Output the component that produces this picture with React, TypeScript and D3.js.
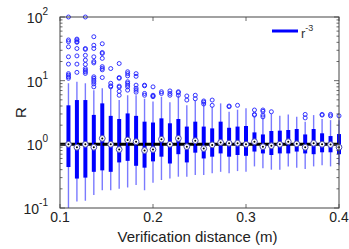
import { useEffect, useRef } from 'react'
import * as d3 from 'd3'

// box statistics, one entry per verification distance
const lowWhisker = [0.1, 0.126, 0.13, 0.16, 0.19, 0.19, 0.2, 0.21, 0.23, 0.19, 0.25, 0.275, 0.29, 0.31, 0.31, 0.33,
  0.33, 0.35, 0.37, 0.35, 0.38, 0.37, 0.45, 0.42, 0.4, 0.4, 0.45, 0.43, 0.41, 0.45, 0.47, 0.45, 0.47]
const q1 = [0.44, 0.29, 0.3, 0.37, 0.39, 0.37, 0.52, 0.55, 0.46, 0.43, 0.54, 0.64, 0.5, 0.7, 0.52, 0.74,
  0.6, 0.64, 0.72, 0.64, 0.68, 0.66, 0.77, 0.72, 0.68, 0.72, 0.72, 0.77, 0.72, 0.7, 0.75, 0.75, 0.7]
const medians = [1.0, 0.9, 1.0, 0.9, 1.24, 1.0, 0.83, 1.17, 1.1, 0.8, 0.83, 1.2, 1.0, 1.24, 0.92, 1.14,
  0.86, 0.98, 1.07, 1.04, 1.04, 1.0, 1.1, 0.92, 0.95, 1.0, 1.1, 1.02, 0.9, 1.04, 1.0, 0.99, 0.9]
const q3 = [4.1, 4.96, 4.96, 2.9, 4.4, 2.8, 2.5, 3.06, 2.8, 2.27, 2.2, 2.56, 2.14, 2.5, 1.9, 2.27,
  1.9, 1.78, 2.27, 1.82, 1.9, 1.94, 1.54, 1.43, 1.62, 1.64, 1.68, 1.74, 1.43, 1.74, 1.49, 1.35, 1.45]
const highWhisker = [9.1, 9.6, 9.1, 7.1, 7.6, 7.6, 4.96, 5.9, 5.9, 5.2, 4.7, 5.6, 4.6, 5.9, 4.1, 4.9,
  4.6, 3.9, 4.4, 3.26, 3.5, 3.7, 2.7, 2.6, 3.0, 2.8, 2.95, 2.7, 2.27, 2.88, 2.5, 2.4, 2.4]
const outliers: number[][] = [
  [100, 43.6, 41, 34, 23.7, 18.2, 12.9, 12.2, 11.5, 10.9],
  [45, 43.6, 41, 40, 32, 24.5, 18.2, 13.5],
  [100, 32, 31, 25, 21, 18, 15.5, 14.6, 13.8, 13],
  [49, 36, 32, 23.7, 20, 19, 11.5, 10.9, 10.2, 9.6, 8.9, 8],
  [38, 27.7, 26.7, 22.4, 16.6, 15.6, 14.8, 11.2],
  [15.5, 9.1, 8.3, 8.0],
  [18.6, 11.2, 10.9, 8.2, 7.9, 6.8, 5.9],
  [13.8, 12.9, 11.9, 9.6, 9.1, 8.5, 8, 7.1],
  [12.9, 11.7, 8.5, 7.6, 7.1, 6.6],
  [8.5, 8.3, 6.3, 5.9],
  [8, 5.9, 5.75, 5.6],
  [6.7, 6.3],
  [6.9, 6.3, 5.9],
  [6.7, 6.5, 5.9],
  [5.75, 4.96],
  [5.9, 5.2],
  [4.8, 4.6, 4.3],
  [4.96, 4.1],
  [],
  [4.0, 3.9],
  [4.1],
  [],
  [3.46, 2.95, 2.88],
  [3.46, 3.3, 2.88, 2.7],
  [3.25],
  [],
  [],
  [],
  [2.95, 2.6],
  [],
  [2.95, 2.88],
  [2.95, 2.8],
  [2.8],
]
const positions = medians.map((_, i) => 0.1 + ((i + 1) * 0.3) / 33)
const xTicks = [0.1, 0.2, 0.3, 0.4]
const yTicks = [0.1, 1, 10, 100]
const yExponents = ['-1', '0', '1', '2']

export default function App() {
  const svgRef = useRef<SVGSVGElement>(null)
  const width = 349
  const height = 249

  useEffect(() => {
    if (!svgRef.current) return
    const svg = d3.select(svgRef.current)
    svg.selectAll('*').remove()

    const margin = { top: 17, right: 10, bottom: 41, left: 60 }
    const x = d3.scaleLinear().domain([0.1, 0.4]).range([margin.left, width - margin.right])
    const y = d3.scaleLog().domain([0.1, 100]).range([height - margin.bottom, margin.top])
    const font = 'Liberation Sans, Arial, sans-serif'

    svg.append('rect').attr('width', width).attr('height', height).attr('fill', '#fff')

    // whiskers
    svg.selectAll('.whisker')
      .data(positions)
      .enter()
      .append('line')
      .attr('x1', d => x(d))
      .attr('x2', d => x(d))
      .attr('y1', (_, i) => y(lowWhisker[i]))
      .attr('y2', (_, i) => y(highWhisker[i]))
      .attr('stroke', '#7a7aff')
      .attr('stroke-width', 1.4)

    // boxes
    svg.selectAll('.box')
      .data(positions)
      .enter()
      .append('line')
      .attr('x1', d => x(d))
      .attr('x2', d => x(d))
      .attr('y1', (_, i) => y(q1[i]))
      .attr('y2', (_, i) => y(q3[i]))
      .attr('stroke', '#0000ff')
      .attr('stroke-width', 4)

    // outliers
    positions.forEach((p, i) => {
      svg.append('g')
        .selectAll('circle')
        .data(outliers[i])
        .enter()
        .append('circle')
        .attr('cx', x(p))
        .attr('cy', d => y(d))
        .attr('r', 2)
        .attr('fill', 'none')
        .attr('stroke', '#2020ff')
        .attr('stroke-width', 0.9)
    })

    // reference line R = 1
    svg.append('line')
      .attr('x1', x(0.1))
      .attr('x2', x(0.4))
      .attr('y1', y(1))
      .attr('y2', y(1))
      .attr('stroke', '#000')
      .attr('stroke-width', 3)
      .attr('stroke-dasharray', '6.5,2')

    // medians
    svg.selectAll('.med')
      .data(positions)
      .enter()
      .append('circle')
      .attr('cx', d => x(d))
      .attr('cy', (_, i) => y(medians[i]))
      .attr('r', 2.9)
      .attr('fill', '#fff')
      .attr('stroke', '#4a4ab0')
      .attr('stroke-width', 1)
    svg.selectAll('.medDot')
      .data(positions)
      .enter()
      .append('circle')
      .attr('cx', d => x(d))
      .attr('cy', (_, i) => y(medians[i]))
      .attr('r', 1)
      .attr('fill', '#000')

    // frame
    const [x0, x1] = x.range()
    const [y0, y1] = y.range()
    svg.append('rect')
      .attr('x', x0)
      .attr('y', y1)
      .attr('width', x1 - x0)
      .attr('height', y0 - y1)
      .attr('fill', 'none')
      .attr('stroke', '#444')
      .attr('stroke-width', 1)

    // y ticks (log, major and minor), inside on both sides
    const minor: number[] = []
    for (let e = -1; e < 2; e++) for (let m = 2; m < 10; m++) minor.push(m * Math.pow(10, e))
    const tickG = svg.append('g').attr('stroke', '#444').attr('stroke-width', 0.8)
    minor.forEach(v => {
      tickG.append('line').attr('x1', x0).attr('x2', x0 + 2.5).attr('y1', y(v)).attr('y2', y(v))
      tickG.append('line').attr('x1', x1).attr('x2', x1 - 2.5).attr('y1', y(v)).attr('y2', y(v))
    })
    yTicks.forEach(v => {
      tickG.append('line').attr('x1', x0).attr('x2', x0 + 5).attr('y1', y(v)).attr('y2', y(v))
      tickG.append('line').attr('x1', x1).attr('x2', x1 - 5).attr('y1', y(v)).attr('y2', y(v))
    })
    xTicks.forEach(v => {
      tickG.append('line').attr('x1', x(v)).attr('x2', x(v)).attr('y1', y0).attr('y2', y0 - 4)
      tickG.append('line').attr('x1', x(v)).attr('x2', x(v)).attr('y1', y1).attr('y2', y1 + 4)
    })

    // y tick labels
    yTicks.forEach((v, i) => {
      const t = svg.append('text')
        .attr('x', x0 - 12)
        .attr('y', y(v) + 6)
        .attr('text-anchor', 'end')
        .attr('font-family', font)
        .attr('font-size', 14)
        .attr('fill', '#222')
        .text('10')
      t.append('tspan').attr('font-size', 10).attr('dy', -8).text(yExponents[i])
    })
    svg.append('text')
      .attr('transform', `translate(26,${(y0 + y1) / 2}) rotate(-90)`)
      .attr('text-anchor', 'middle')
      .attr('font-family', font)
      .attr('font-size', 15)
      .attr('fill', '#222')
      .text('R')

    // x tick labels
    svg.selectAll('.xl')
      .data(xTicks)
      .enter()
      .append('text')
      .attr('x', d => x(d))
      .attr('y', y0 + 14)
      .attr('text-anchor', 'middle')
      .attr('font-family', font)
      .attr('font-size', 14)
      .attr('fill', '#222')
      .text(d => d3.format('.1f')(d))
    svg.append('text')
      .attr('x', (x0 + x1) / 2 - 2)
      .attr('y', y0 + 34)
      .attr('text-anchor', 'middle')
      .attr('font-family', font)
      .attr('font-size', 15)
      .attr('fill', '#222')
      .text('Verification distance (m)')

    // legend
    svg.append('line')
      .attr('x1', 272)
      .attr('x2', 298)
      .attr('y1', 31)
      .attr('y2', 31)
      .attr('stroke', '#0000ff')
      .attr('stroke-width', 3)
    const lt = svg.append('text')
      .attr('x', 301)
      .attr('y', 38)
      .attr('font-family', font)
      .attr('font-size', 13)
      .attr('fill', '#333')
      .text('r')
    lt.append('tspan').attr('font-size', 9).attr('dy', -7).text('-3')
  }, [])

  return (
    <svg
      ref={svgRef}
      width={width}
      height={height}
      style={{ position: 'absolute', left: 0, top: 0 }}
    />
  )
}
